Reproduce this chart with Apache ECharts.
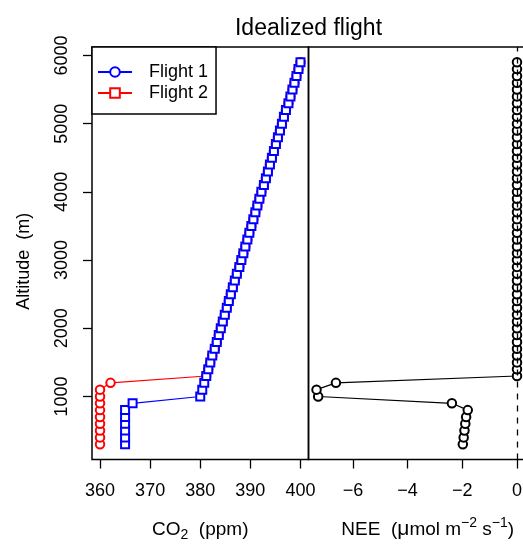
<!DOCTYPE html>
<html>
<head>
<meta charset="utf-8">
<script src="https://cdn.jsdelivr.net/npm/echarts@6/dist/echarts.min.js"></script>
<style>
html,body{margin:0;padding:0;background:#fff}
#chart{width:523px;height:544px}
</style>
</head>
<body>
<div id="chart"></div>
<script>
// altitude grid (m), shared by all profiles
var altitude = [300,400,500,600,700,800,900,1000,1100,1200,1300,1400,1500,1600,1700,1800,1900,2000,
  2100,2200,2300,2400,2500,2600,2700,2800,2900,3000,3100,3200,3300,3400,3500,3600,3700,3800,3900,4000,
  4100,4200,4300,4400,4500,4600,4700,4800,4900,5000,5100,5200,5300,5400,5500,5600,5700,5800,5900];

// CO2 (ppm), blue profile (squares)
var co2Blue = [365,365,365,365,365,365,366.5,
  380.0,380.4,380.8,381.2,381.6,382.0,382.4,382.9,383.3,383.7,
  384.1,384.5,384.9,385.3,385.7,386.1,386.5,386.9,387.3,387.8,
  388.2,388.6,389.0,389.4,389.8,390.2,390.6,391.0,391.4,391.8,
  392.2,392.7,393.1,393.5,393.9,394.3,394.7,395.1,395.5,395.9,
  396.3,396.7,397.1,397.6,398.0,398.4,398.8,399.2,399.6,400.0];

// CO2 (ppm), red profile (circles)
var co2Red = [360,360,360,360,360,360,360,360,360,362.1,
  381.2,381.6,382.0,382.4,382.9,383.3,383.7,
  384.1,384.5,384.9,385.3,385.7,386.1,386.5,386.9,387.3,387.8,
  388.2,388.6,389.0,389.4,389.8,390.2,390.6,391.0,391.4,391.8,
  392.2,392.7,393.1,393.5,393.9,394.3,394.7,395.1,395.5,395.9,
  396.3,396.7,397.1,397.6,398.0,398.4,398.8,399.2,399.6,400.0];

// NEE (umol m-2 s-1)
var nee = [-1.98,-1.95,-1.92,-1.89,-1.86,-1.80,-2.38,-7.27,-7.33,-6.62,
  0,0,0,0,0,0,0,0,0,0,0,0,0,0,0,0,0,0,0,0,0,0,0,0,0,0,0,0,0,0,0,0,0,0,0,0,0,0,0,0,0,0,0,0,0,0,0];

var altTicks = [1000,2000,3000,4000,5000,6000];
var co2Ticks = [360,370,380,390,400];
var neeTicks = [-6,-4,-2,0];

var font = '"Liberation Sans", Arial, Helvetica, sans-serif';

function pairs(xs){
  return altitude.map(function(a,i){ return [xs[i], a]; });
}

var tickStyle = {length:9, lineStyle:{color:'#000', width:1.3}};

var dom = document.getElementById('chart');
var myChart = echarts.init(dom, null, {renderer:'canvas'});

var option = {
  animation: false,
  backgroundColor: '#fff',
  textStyle: {fontFamily: font, color: '#000'},
  title: {
    text: 'Idealized flight',
    left: 308.5, textAlign: 'center', top: 17, padding: 0,
    textStyle: {fontFamily: font, fontSize: 23, fontWeight: 'normal', color: '#000'}
  },
  legend: {
    data: ['Flight 1','Flight 2'],
    orient: 'vertical', left: 92, top: 47,
    padding: [16,8,12,5],
    itemWidth: 34, itemHeight: 12, itemGap: 3,
    borderColor: '#000', borderWidth: 1.5, backgroundColor: '#fff',
    selectedMode: false,
    textStyle: {fontFamily: font, fontSize: 18, color: '#000', padding: [0,0,0,12]}
  },
  grid: [
    {left: 92, top: 47, width: 216.5, height: 412.5, show: true, borderColor: '#000', borderWidth: 1.5, backgroundColor: 'transparent', outerBoundsMode: 'none', containLabel: false},
    {left: 308.5, top: 47, width: 216.5, height: 412.5, show: true, borderColor: '#000', borderWidth: 1.5, backgroundColor: 'transparent', outerBoundsMode: 'none', containLabel: false}
  ],
  xAxis: [
    {
      gridIndex: 0, type: 'value', min: 358.4, max: 401.6,
      axisLine: {show: false, onZero: false}, splitLine: {show: false},
      axisTick: Object.assign({customValues: co2Ticks}, tickStyle),
      axisLabel: {customValues: co2Ticks, fontSize: 18, color: '#000', margin: 23, fontFamily: font},
      name: '{n|CO}{s|2}{n|  (ppm)}', nameLocation: 'middle', nameGap: 57,
      nameTextStyle: {rich: {
        n: {fontSize: 19, lineHeight: 26, verticalAlign: 'middle', fontFamily: font, color: '#000'},
        s: {fontSize: 14, lineHeight: 18, verticalAlign: 'bottom', fontFamily: font, color: '#000'}
      }}
    },
    {
      gridIndex: 1, type: 'value', min: -7.623, max: 0.293,
      axisLine: {show: false, onZero: false}, splitLine: {show: false},
      axisTick: Object.assign({customValues: neeTicks}, tickStyle),
      axisLabel: {customValues: neeTicks, fontSize: 18, color: '#000', margin: 23, fontFamily: font,
        formatter: function(v){ return String(v).replace('-', '\u2212'); }},
      name: '{n|NEE  (}{u|\u03bc}{n|mol m}{p|\u22122}{n| s}{p|\u22121}{n|)}', nameLocation: 'middle', nameGap: 57,
      nameTextStyle: {padding: [0,0,0,22], rich: {
        n: {fontSize: 19, lineHeight: 26, verticalAlign: 'middle', fontFamily: font, color: '#000'},
        u: {fontSize: 21, lineHeight: 26, verticalAlign: 'middle', fontFamily: font, color: '#000'},
        p: {fontSize: 14, lineHeight: 16, verticalAlign: 'top', fontFamily: font, color: '#000'}
      }}
    }
  ],
  yAxis: [
    {
      gridIndex: 0, type: 'value', min: 76, max: 6124,
      axisLine: {show: false, onZero: false}, splitLine: {show: false},
      axisTick: Object.assign({customValues: altTicks}, tickStyle),
      axisLabel: {customValues: altTicks, rotate: 90, fontSize: 18, color: '#000', margin: 21, fontFamily: font,
        formatter: function(v){ return String(v); }},
      name: 'Altitude  (m)', nameLocation: 'middle', nameRotate: 90, nameGap: 59,
      nameTextStyle: {fontSize: 18, color: '#000', fontFamily: font, padding: [0,16,0,0]}
    },
    {
      gridIndex: 1, type: 'value', min: 76, max: 6124, show: false,
      axisLine: {show: false, onZero: false}, splitLine: {show: false}
    }
  ],
  series: [
    // legend entries
    {name: 'Flight 1', type: 'line', xAxisIndex: 0, yAxisIndex: 0, data: [],
     color: '#0000ff', symbol: 'emptyCircle', lineStyle: {color: '#0000ff', width: 1.3}},
    {name: 'Flight 2', type: 'line', xAxisIndex: 0, yAxisIndex: 0, data: [],
     color: '#ff0000', symbol: 'emptyRect', lineStyle: {color: '#ff0000', width: 1.3}},
    // profiles
    {name: 'red', type: 'line', xAxisIndex: 0, yAxisIndex: 0, data: pairs(co2Red),
     color: '#ff0000', symbol: 'emptyCircle', symbolSize: 8.5, showAllSymbol: true,
     itemStyle: {color: '#ff0000', borderWidth: 1.3}, lineStyle: {color: '#ff0000', width: 1.2},
     emphasis: {disabled: true}, silent: true},
    {name: 'blue', type: 'line', xAxisIndex: 0, yAxisIndex: 0, data: pairs(co2Blue),
     color: '#0000ff', symbol: 'emptyRect', symbolSize: 8, showAllSymbol: true,
     itemStyle: {color: '#0000ff', borderWidth: 1.3}, lineStyle: {color: '#0000ff', width: 1.2},
     emphasis: {disabled: true}, silent: true},
    {name: 'nee', type: 'line', xAxisIndex: 1, yAxisIndex: 1, data: pairs(nee),
     color: '#000', symbol: 'emptyCircle', symbolSize: 8.5, showAllSymbol: true,
     itemStyle: {color: '#000', borderWidth: 1.3}, lineStyle: {color: '#000', width: 1.2},
     emphasis: {disabled: true}, silent: true,
     markLine: {silent: true, symbol: ['none','none'], label: {show: false},
       lineStyle: {color: '#000', type: [6,6], width: 1.3}, emphasis: {disabled: true},
       data: [{xAxis: 0}]}}
  ]
};
myChart.setOption(option, true);
</script>
</body>
</html>
